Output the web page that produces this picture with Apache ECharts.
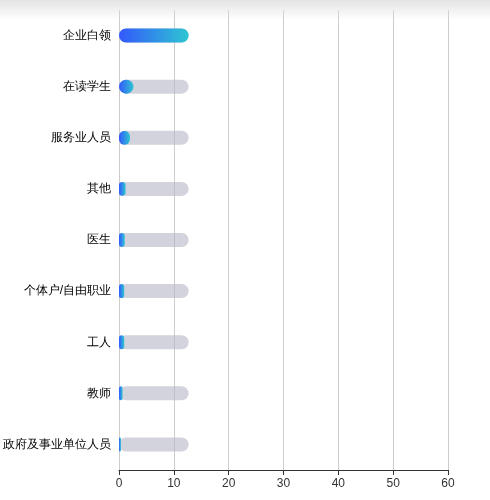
<!DOCTYPE html>
<html>
<head>
<meta charset="utf-8">
<script src="https://cdn.jsdelivr.net/npm/echarts@6/dist/echarts.min.js"></script>
<style>
html,body{margin:0;padding:0;background:#fff;}
#shade{position:absolute;left:0;top:0;width:490px;height:20px;background:linear-gradient(to bottom,#e4e4e4,rgba(255,255,255,0));z-index:2;pointer-events:none;}
#c{width:490px;height:500px;}
</style>
</head>
<body>
<div id="shade"></div>
<div id="c"></div>
<script>
var categories = ['企业白领','在读学生','服务业人员','其他','医生','个体户/自由职业','工人','教师','政府及事业单位人员'];
var values = [12.7, 2.65, 2.0, 1.2, 1.05, 0.95, 0.95, 0.65, 0.35];
var xTicks = [0, 10, 20, 30, 40, 50, 60];

var maxVal = Math.max.apply(null, values);
var bgValues = values.map(function(){ return maxVal; });

var chart = echarts.init(document.getElementById('c'));
chart.setOption({
  animation: false,
  grid: { left: 116, right: 42, top: 10, bottom: 30, containLabel: false },
  xAxis: {
    type: 'value', min: xTicks[0], max: xTicks[xTicks.length-1], interval: 10,
    axisLine: { show: true, lineStyle: { color: '#333' } },
    axisTick: { show: true, lineStyle: { color: '#333' } },
    axisLabel: { color: '#333', fontSize: 12, margin: 8 },
    splitLine: { show: true, lineStyle: { color: '#ccc' } }
  },
  yAxis: {
    type: 'category', inverse: true, data: categories,
    axisLine: { show: false }, axisTick: { show: false },
    axisLabel: { color: '#000', fontSize: 12, margin: 8 }
  },
  series: [
    {
      type: 'bar', data: bgValues, barWidth: 14, barGap: '-100%', z: 1,
      itemStyle: { color: 'rgba(180,182,196,0.6)', borderRadius: 7 },
      silent: true
    },
    {
      type: 'bar', data: values, barWidth: 14, z: 2,
      itemStyle: {
        borderRadius: 7,
        color: new echarts.graphic.LinearGradient(0, 0, 1, 0, [
          { offset: 0, color: '#3358fb' },
          { offset: 1, color: '#2ec6d2' }
        ])
      }
    }
  ]
});
</script>
</body>
</html>
